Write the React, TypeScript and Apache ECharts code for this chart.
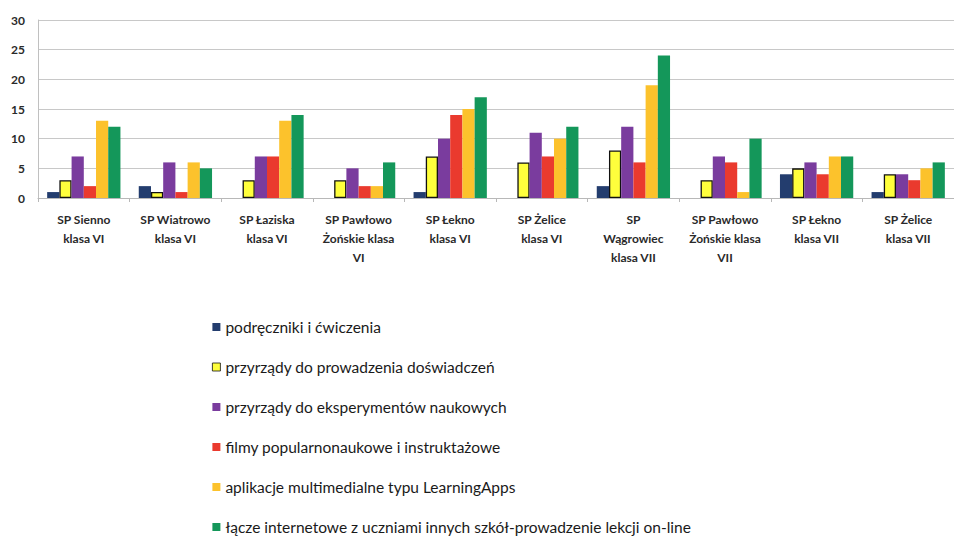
import React, { useEffect, useRef } from "react";
import * as echarts from "echarts";

const categories = [
  "SP Sienno\nklasa VI",
  "SP Wiatrowo\nklasa VI",
  "SP Łaziska\nklasa VI",
  "SP Pawłowo\nŻońskie klasa\nVI",
  "SP Łekno\nklasa VI",
  "SP Żelice\nklasa VI",
  "SP\nWągrowiec\nklasa VII",
  "SP Pawłowo\nŻońskie klasa\nVII",
  "SP Łekno\nklasa VII",
  "SP Żelice\nklasa VII",
];

const seriesNames = [
  "podręczniki i ćwiczenia",
  "przyrządy do prowadzenia doświadczeń",
  "przyrządy do eksperymentów naukowych",
  "filmy popularnonaukowe i instruktażowe",
  "aplikacje multimedialne typu LearningApps",
  "łącze internetowe z uczniami innych szkół-prowadzenie lekcji on-line",
];

const podreczniki = [1, 2, 0, 0, 1, 0, 2, 0, 4, 1];
const doswiadczenia = [3, 1, 3, 3, 7, 6, 8, 3, 5, 4];
const eksperymenty = [7, 6, 7, 5, 10, 11, 12, 7, 6, 4];
const filmy = [2, 1, 7, 2, 14, 7, 6, 6, 4, 3];
const aplikacje = [13, 6, 13, 2, 15, 10, 19, 1, 7, 5];
const lacze = [12, 5, 14, 6, 17, 12, 24, 10, 7, 6];

const yTicks = [0, 5, 10, 15, 20, 25, 30];

const colors = ["#233d6e", "#ffff3c", "#7a3c9e", "#ea3a2e", "#fcc22c", "#14975a"];

export default function App() {
  const ref = useRef<HTMLDivElement>(null);
  useEffect(() => {
    if (!ref.current) return;
    const chart = echarts.init(ref.current, null, { renderer: "svg" });
    const values = [podreczniki, doswiadczenia, eksperymenty, filmy, aplikacje, lacze];
    const font = "Lato, 'Open Sans', sans-serif";
    chart.setOption({
      animation: false,
      backgroundColor: "#ffffff",
      textStyle: { fontFamily: font },
      grid: { left: 38, top: 20, width: 925, height: 178, containLabel: false },
      legend: {
        orient: "vertical",
        left: 212,
        top: 319,
        padding: 0,
        itemWidth: 8,
        itemHeight: 8,
        itemGap: 24,
        icon: "rect",
        data: seriesNames.map((name, i) =>
          i === 1
            ? { name, itemStyle: { borderWidth: 0.8, borderColor: "#111" } }
            : { name }
        ),
        textStyle: {
          fontFamily: font,
          fontSize: 15.5,
          color: "#1a1a1a",
        },
      },
      xAxis: {
        type: "category",
        data: categories,
        axisLine: { show: true, lineStyle: { color: "#b8b8b8", width: 1 } },
        axisTick: { show: true, length: 4, lineStyle: { color: "#b8b8b8" } },
        axisLabel: {
          interval: 0,
          margin: 12,
          fontFamily: font,
          fontSize: 12,
          fontWeight: "bold",
          lineHeight: 19,
          color: "#2a2a2a",
        },
      },
      yAxis: {
        type: "value",
        min: 0,
        max: 30,
        interval: 5,
        axisLine: { show: true, lineStyle: { color: "#c0c0c0", width: 1 } },
        axisTick: { show: false },
        splitLine: { show: true, lineStyle: { color: "#c8c8c8", width: 1 } },
        axisLabel: {
          margin: 13,
          fontFamily: font,
          fontSize: 12,
          fontWeight: "bold",
          color: "#2a2a2a",
          formatter: (v: number) => (yTicks.includes(v) ? String(v) : ""),
        },
      },
      series: seriesNames.map((name, i) => ({
        name,
        type: "bar",
        data: values[i],
        barGap: "0%",
        barCategoryGap: "20%",
        itemStyle:
          i === 1
            ? { color: colors[i], borderColor: "#111", borderWidth: 1.3 }
            : { color: colors[i] },
      })),
    });
    return () => chart.dispose();
  }, []);
  return (
    <div
      ref={ref}
      style={{ position: "fixed", left: 0, top: 0, width: 954, height: 570 }}
    />
  );
}
